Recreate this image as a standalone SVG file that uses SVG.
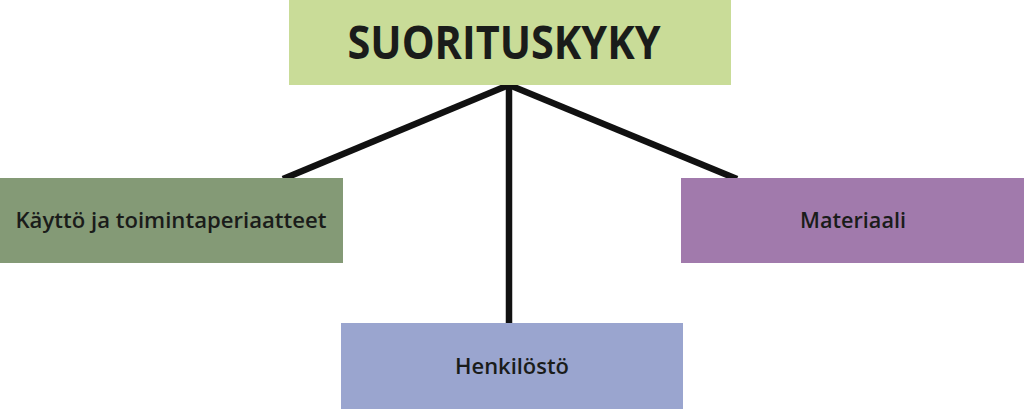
<svg xmlns="http://www.w3.org/2000/svg" width="1024" height="409" viewBox="0 0 1024 409">
<style>
.t{font-family:"Open Sans","Noto Sans","DejaVu Sans",sans-serif;font-weight:700;fill:#1a1c1a;text-anchor:middle}
.s{font-weight:600}
.c{stroke:#111;stroke-width:6.5;fill:none;stroke-linecap:butt;stroke-linejoin:miter}
</style>
<rect width="1024" height="409" fill="#ffffff"/>
<g id="connectors">
<path class="c" d="M509,85 L283,179"/>
<path class="c" d="M509,85 L737,179"/>
<path class="c" d="M509,85 L509,324"/>
</g>
<g id="n-suorituskyky">
<rect x="289" y="0" width="442" height="85" fill="#c9dc98"/>
<text class="t" x="504" y="59" font-size="47" textLength="313" lengthAdjust="spacingAndGlyphs">SUORITUSKYKY</text>
</g>
<g id="n-kaytto">
<rect x="0" y="178" width="343" height="85" fill="#849a76"/>
<text class="t s" x="171" y="228" font-size="21" textLength="311" lengthAdjust="spacingAndGlyphs">Käyttö ja toimintaperiaatteet</text>
</g>
<g id="n-materiaali">
<rect x="681" y="178" width="343" height="85" fill="#a17aac"/>
<text class="t s" x="853" y="228" font-size="21" textLength="106" lengthAdjust="spacingAndGlyphs">Materiaali</text>
</g>
<g id="n-henkilosto">
<rect x="341" y="323" width="342" height="86" fill="#9aa5cf"/>
<text class="t s" x="512" y="374" font-size="21" textLength="114" lengthAdjust="spacingAndGlyphs">Henkilöstö</text>
</g>
</svg>
